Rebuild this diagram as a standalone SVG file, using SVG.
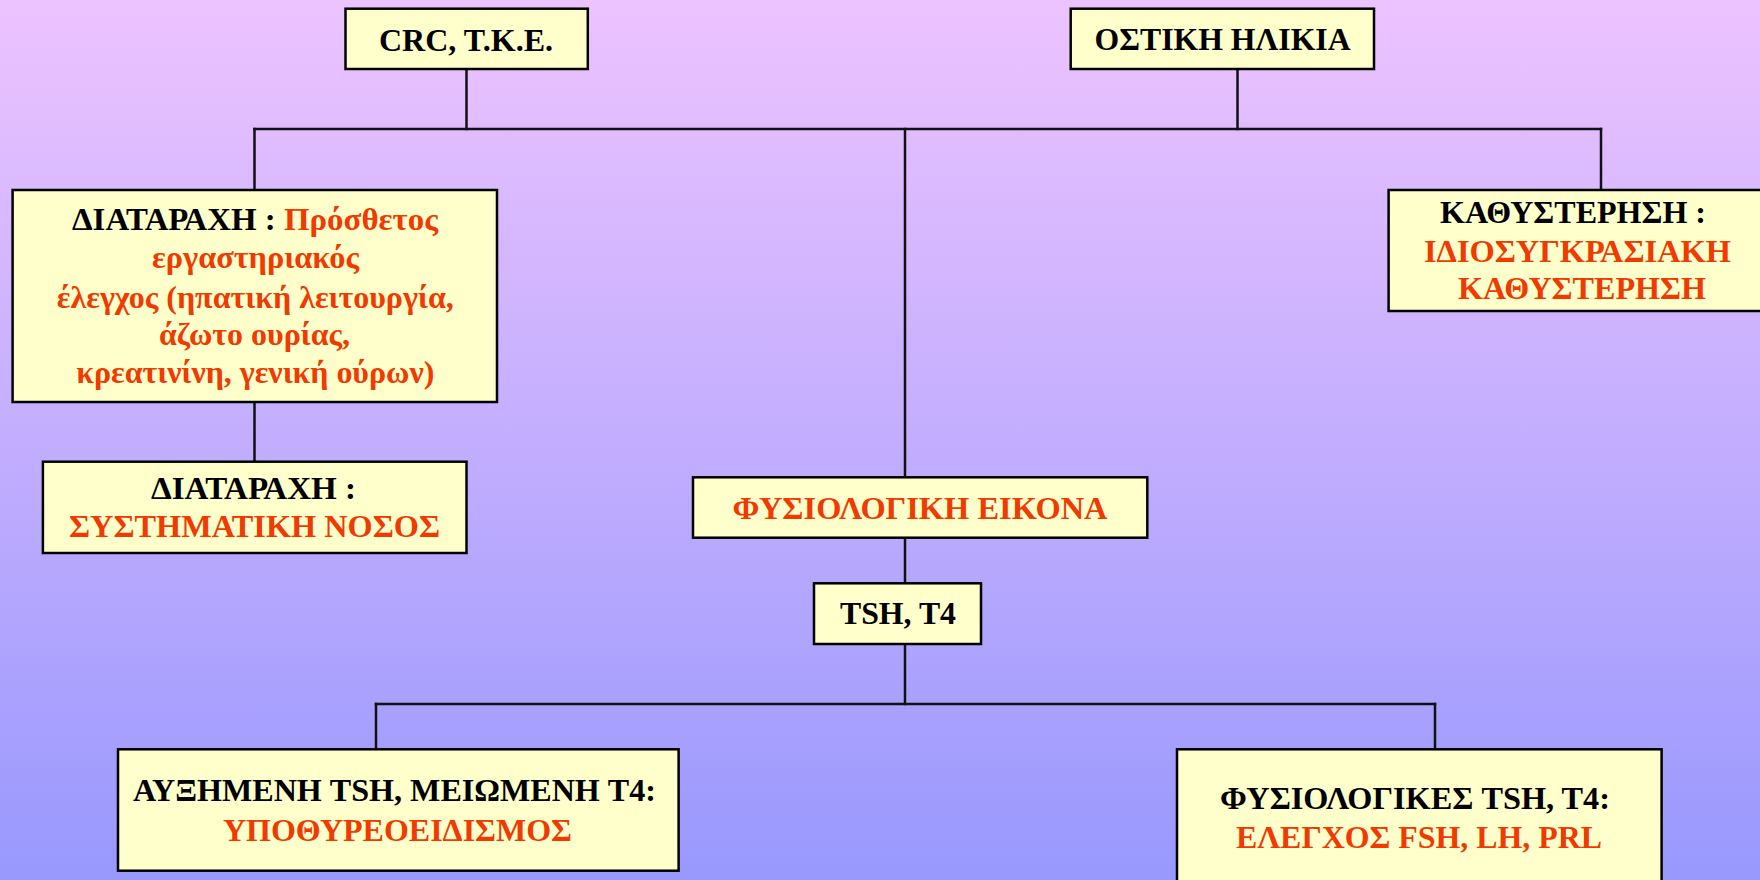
<svg xmlns="http://www.w3.org/2000/svg" width="1760" height="880" viewBox="0 0 1760 880">
  <defs>
    <linearGradient id="bg" x1="0" y1="0" x2="0" y2="1">
      <stop offset="0" stop-color="#EDC3FF"/>
      <stop offset="1" stop-color="#9898FD"/>
    </linearGradient>
    <style>
      .box { fill: #FFFFCC; stroke: #000; stroke-width: 2.5; }
      .conn { fill: none; stroke: #111; stroke-width: 2.5; stroke-linecap: square; }
      text { font-family: "Liberation Serif", "Times New Roman", serif; font-weight: bold; font-size: 31px; text-anchor: middle; fill: #000; }
      .red { fill: #F03A00; }
    </style>
  </defs>

  <rect x="0" y="0" width="1760" height="880" fill="url(#bg)"/>

  <!-- connectors -->
  <g id="connectors" class="conn">
    <path class="conn" d="M466.5,69 V129"/>
    <path class="conn" d="M1237.5,69 V129"/>
    <path class="conn" d="M254.5,129 H1601"/>
    <path class="conn" d="M254.5,129 V190"/>
    <path class="conn" d="M1601,129 V190"/>
    <path class="conn" d="M905,129 V477"/>
    <path class="conn" d="M254.5,402 V462"/>
    <path class="conn" d="M905,538 V583"/>
    <path class="conn" d="M905,644 V704"/>
    <path class="conn" d="M376,704 H1435"/>
    <path class="conn" d="M376,704 V749"/>
    <path class="conn" d="M1435,704 V749"/>
  </g>

  <g id="crc">
    <rect class="box" x="345.5" y="8.7" width="242.3" height="60.3"/>
    <text x="466" y="51" textLength="174" lengthAdjust="spacingAndGlyphs">CRC, T.K.E.</text>
  </g>

  <g id="ostiki">
    <rect class="box" x="1070.7" y="8.7" width="303.3" height="60.3"/>
    <text x="1222.6" y="50" textLength="256" lengthAdjust="spacingAndGlyphs">ΟΣΤΙΚΗ ΗΛΙΚΙΑ</text>
  </g>

  <g id="diataraxi-elegxos">
    <rect class="box" x="12.6" y="190" width="484.4" height="212"/>
    <text x="255" y="230" textLength="366" lengthAdjust="spacingAndGlyphs">ΔΙΑΤΑΡΑΧΗ : <tspan class="red">Πρόσθετος</tspan></text>
    <text class="red" x="255.5" y="268" textLength="207" lengthAdjust="spacingAndGlyphs">εργαστηριακός</text>
    <text class="red" x="255.3" y="308" textLength="397" lengthAdjust="spacingAndGlyphs">έλεγχος (ηπατική λειτουργία,</text>
    <text class="red" x="254.5" y="345" textLength="191" lengthAdjust="spacingAndGlyphs">άζωτο ουρίας,</text>
    <text class="red" x="255.3" y="383" textLength="358" lengthAdjust="spacingAndGlyphs">κρεατινίνη, γενική ούρων)</text>
  </g>

  <g id="diataraxi-nosos">
    <rect class="box" x="42.9" y="461.7" width="423.6" height="91.3"/>
    <text x="253.5" y="499" textLength="205" lengthAdjust="spacingAndGlyphs">ΔΙΑΤΑΡΑΧΗ :</text>
    <text class="red" x="254.5" y="537" textLength="371" lengthAdjust="spacingAndGlyphs">ΣΥΣΤΗΜΑΤΙΚΗ ΝΟΣΟΣ</text>
  </g>

  <g id="kathysterisi">
    <rect class="box" x="1388.6" y="190" width="380" height="121"/>
    <text x="1573" y="223" textLength="266" lengthAdjust="spacingAndGlyphs">ΚΑΘΥΣΤΕΡΗΣΗ :</text>
    <text class="red" x="1577.5" y="262" textLength="307" lengthAdjust="spacingAndGlyphs">ΙΔΙΟΣΥΓΚΡΑΣΙΑΚΗ</text>
    <text class="red" x="1582" y="299" textLength="248" lengthAdjust="spacingAndGlyphs">ΚΑΘΥΣΤΕΡΗΣΗ</text>
  </g>

  <g id="fysiologiki-eikona">
    <rect class="box" x="693" y="477.3" width="454.3" height="60.4"/>
    <text class="red" x="920" y="519" textLength="375" lengthAdjust="spacingAndGlyphs">ΦΥΣΙΟΛΟΓΙΚΗ ΕΙΚΟΝΑ</text>
  </g>

  <g id="tsh-t4">
    <rect class="box" x="814" y="583.3" width="167" height="60.7"/>
    <text x="898" y="624" textLength="116" lengthAdjust="spacingAndGlyphs">TSH, T4</text>
  </g>

  <g id="ypothyreoeidismos">
    <rect class="box" x="118" y="749.3" width="560.6" height="121.4"/>
    <text x="394.5" y="801" textLength="523" lengthAdjust="spacingAndGlyphs">ΑΥΞΗΜΕΝΗ TSH, ΜΕΙΩΜΕΝΗ T4:</text>
    <text class="red" x="397.5" y="841" textLength="349" lengthAdjust="spacingAndGlyphs">ΥΠΟΘΥΡΕΟΕΙΔΙΣΜΟΣ</text>
  </g>

  <g id="elegxos-fsh">
    <rect class="box" x="1177" y="749.3" width="484.6" height="160"/>
    <text x="1415" y="809" textLength="390" lengthAdjust="spacingAndGlyphs">ΦΥΣΙΟΛΟΓΙΚΕΣ TSH, T4:</text>
    <text class="red" x="1419" y="848" textLength="366" lengthAdjust="spacingAndGlyphs">ΕΛΕΓΧΟΣ FSH, LH, PRL</text>
  </g>
</svg>
